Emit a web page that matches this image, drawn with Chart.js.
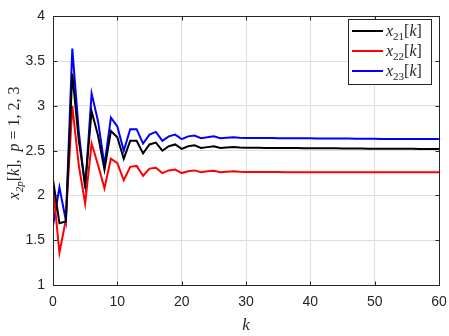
<!DOCTYPE html>
<html>
<head>
<meta charset="utf-8">
<script src="https://cdn.jsdelivr.net/npm/chart.js@4.4.1/dist/chart.umd.min.js"></script>
<style>
  html, body { margin: 0; padding: 0; background: #fff; }
  #wrap { width: 449px; height: 336px; position: relative; }
</style>
</head>
<body>
<div id="wrap"><canvas id="stateChart"></canvas></div>
<script>
// Time steps
const kValues = [
    0, 1, 2, 3, 4, 5, 6, 7, 8, 9, 10, 11, 12, 13, 14, 15, 16, 17, 18, 19, 20,
    21, 22, 23, 24, 25, 26, 27, 28, 29, 30, 31, 32, 33, 34, 35, 36, 37, 38, 39, 40,
    41, 42, 43, 44, 45, 46, 47, 48, 49, 50, 51, 52, 53, 54, 55, 56, 57, 58, 59, 60
];

// x21[k]
const x21 = [
    2.18, 1.69, 1.71, 3.36, 2.62, 2.12, 2.94, 2.67, 2.29, 2.72,
    2.65, 2.41, 2.61, 2.61, 2.47, 2.57, 2.59, 2.50, 2.55, 2.57,
    2.52, 2.55, 2.56, 2.53, 2.54, 2.55, 2.53, 2.535, 2.54, 2.535,
    2.533, 2.532, 2.532, 2.531, 2.531, 2.530, 2.530, 2.529, 2.529, 2.528, 2.528,
    2.527, 2.527, 2.526, 2.526, 2.525, 2.525, 2.524, 2.524, 2.523, 2.523,
    2.522, 2.522, 2.522, 2.521, 2.521, 2.521, 2.520, 2.520, 2.520, 2.520
];

// x22[k]
const x22 = [
    2.10, 1.36, 1.73, 3.00, 2.34, 1.91, 2.58, 2.34, 2.08, 2.41,
    2.36, 2.17, 2.32, 2.33, 2.22, 2.30, 2.31, 2.25, 2.28, 2.29,
    2.25, 2.27, 2.28, 2.26, 2.27, 2.275, 2.26, 2.265, 2.27, 2.265,
    2.263, 2.262, 2.262, 2.261, 2.261, 2.261, 2.260, 2.260, 2.260, 2.260, 2.260,
    2.260, 2.260, 2.260, 2.260, 2.260, 2.260, 2.260, 2.260, 2.260, 2.260,
    2.260, 2.260, 2.260, 2.260, 2.260, 2.260, 2.260, 2.260, 2.260, 2.260
];

// x23[k]
const x23 = [
    1.66, 2.09, 1.72, 3.64, 2.72, 2.08, 3.14, 2.83, 2.34, 2.87,
    2.77, 2.50, 2.74, 2.74, 2.58, 2.68, 2.71, 2.61, 2.66, 2.68,
    2.63, 2.66, 2.67, 2.64, 2.65, 2.66, 2.64, 2.645, 2.65, 2.645,
    2.643, 2.642, 2.642, 2.641, 2.641, 2.640, 2.640, 2.639, 2.639, 2.638, 2.638,
    2.637, 2.637, 2.636, 2.636, 2.635, 2.635, 2.634, 2.634, 2.633, 2.633,
    2.632, 2.632, 2.632, 2.631, 2.631, 2.631, 2.630, 2.630, 2.630, 2.630
];

// Tick labels
const xTicks = [0, 10, 20, 30, 40, 50, 60];
const yTicks = [1, 1.5, 2, 2.5, 3, 3.5, 4];

// Series info
const seriesNames = ['21', '22', '23'];
const seriesColors = ['#000000', '#ff0000', '#0000ff'];
const seriesData = [x21, x22, x23];

const axisColor = '#262626';
const serif = '"Liberation Serif", "DejaVu Serif", serif';

// style: 'i' italic, 'r' roman, 's' italic subscript, 'n' roman subscript
function fontFor(style, size) {
    if (style === 'i') return 'italic ' + size + 'px ' + serif;
    if (style === 's') return 'italic ' + Math.round(size * 0.7) + 'px ' + serif;
    if (style === 'n') return Math.round(size * 0.7) + 'px ' + serif;
    return size + 'px ' + serif;
}

function mathWidth(ctx, parts, size) {
    let w = 0;
    parts.forEach(p => {
        ctx.font = fontFor(p[1], size);
        w += ctx.measureText(p[0]).width;
    });
    return w;
}

function drawMath(ctx, parts, x, y, size) {
    ctx.textBaseline = 'alphabetic';
    ctx.textAlign = 'left';
    parts.forEach(p => {
        ctx.font = fontFor(p[1], size);
        const dy = (p[1] === 's' || p[1] === 'n') ? size * 0.28 : 0;
        ctx.fillText(p[0], x, y + dy);
        x += ctx.measureText(p[0]).width;
    });
}

// Box, inward ticks, axis titles and legend
const decorPlugin = {
    id: 'decor',
    afterDraw(chart) {
        const ctx = chart.ctx;
        const a = chart.chartArea;
        const xs = chart.scales.x;
        const ys = chart.scales.y;
        const L = Math.round(a.left) + 0.5, R = Math.round(a.right) + 0.5;
        const T = Math.round(a.top) + 0.5, B = Math.round(a.bottom) + 0.5;

        ctx.save();
        ctx.strokeStyle = axisColor;
        ctx.lineWidth = 1;
        ctx.strokeRect(L, T, R - L, B - T);

        // inward ticks
        ctx.beginPath();
        xTicks.forEach(v => {
            const px = Math.round(xs.getPixelForValue(v)) + 0.5;
            ctx.moveTo(px, B); ctx.lineTo(px, B - 4);
            ctx.moveTo(px, T); ctx.lineTo(px, T + 4);
        });
        yTicks.forEach(v => {
            const py = Math.round(ys.getPixelForValue(v)) + 0.5;
            ctx.moveTo(L, py); ctx.lineTo(L + 4, py);
            ctx.moveTo(R, py); ctx.lineTo(R - 4, py);
        });
        ctx.stroke();

        // x title
        ctx.fillStyle = axisColor;
        const kParts = [['k', 'i']];
        const kw = mathWidth(ctx, kParts, 17);
        drawMath(ctx, kParts, (a.left + a.right) / 2 - kw / 2, 330, 17);

        // y title (rotated)
        const yParts = [
            ['x', 'i'], ['2p', 's'], ['[', 'r'], ['k', 'i'], [']', 'r'],
            [',  ', 'r'], ['p', 'i'], [' = 1, 2, 3', 'r']
        ];
        ctx.save();
        ctx.translate(19, 143);
        ctx.rotate(-Math.PI / 2);
        const yw = mathWidth(ctx, yParts, 16);
        drawMath(ctx, yParts, -yw / 2, 0, 16);
        ctx.restore();

        // legend box
        const lx = 348.5, ly = 19.5, lw = 83, lh = 65;
        ctx.fillStyle = '#ffffff';
        ctx.fillRect(lx, ly, lw, lh);
        ctx.strokeStyle = axisColor;
        ctx.strokeRect(lx, ly, lw, lh);
        seriesNames.forEach((name, i) => {
            const y = 31 + i * 20;
            ctx.strokeStyle = seriesColors[i];
            ctx.lineWidth = 2;
            ctx.beginPath();
            ctx.moveTo(352, y); ctx.lineTo(383, y);
            ctx.stroke();
            ctx.fillStyle = axisColor;
            drawMath(ctx, [['x', 'i'], [name, 'n'], ['[', 'r'], ['k', 'i'], [']', 'r']], 386, y + 5, 16);
        });
        ctx.restore();
    }
};

const datasets = seriesData.map((vals, i) => ({
    label: 'x' + seriesNames[i] + '[k]',
    data: kValues.map((k, j) => ({ x: k, y: vals[j] })),
    borderColor: seriesColors[i],
    backgroundColor: seriesColors[i],
    borderWidth: 2,
    pointRadius: 0,
    tension: 0,
    fill: false
}));

new Chart(document.getElementById('stateChart'), {
    type: 'line',
    data: { datasets: datasets },
    plugins: [decorPlugin],
    options: {
        responsive: true,
        maintainAspectRatio: false,
        animation: false,
        layout: { padding: { left: 0, right: 10, top: 10, bottom: 0 } },
        plugins: {
            legend: { display: false },
            tooltip: { enabled: false }
        },
        scales: {
            x: {
                type: 'linear',
                min: 0,
                max: 60,
                afterFit(scale) { scale.height = 51; scale.paddingRight = 0; },
                afterBuildTicks(scale) { scale.ticks = xTicks.map(v => ({ value: v })); },
                grid: { color: '#dedede', lineWidth: 1, drawTicks: false },
                border: { display: false },
                ticks: {
                    color: axisColor,
                    padding: 9,
                    maxRotation: 0,
                    font: { family: '"Liberation Sans", Arial, sans-serif', size: 14 }
                }
            },
            y: {
                type: 'linear',
                min: 1,
                max: 4,
                afterFit(scale) { scale.width = 53; },
                afterBuildTicks(scale) { scale.ticks = yTicks.map(v => ({ value: v })); },
                grid: { color: '#dedede', lineWidth: 1, drawTicks: false },
                border: { display: false },
                ticks: {
                    color: axisColor,
                    padding: 8,
                    callback: v => String(v),
                    font: { family: '"Liberation Sans", Arial, sans-serif', size: 14 }
                }
            }
        }
    }
});
</script>
</body>
</html>
